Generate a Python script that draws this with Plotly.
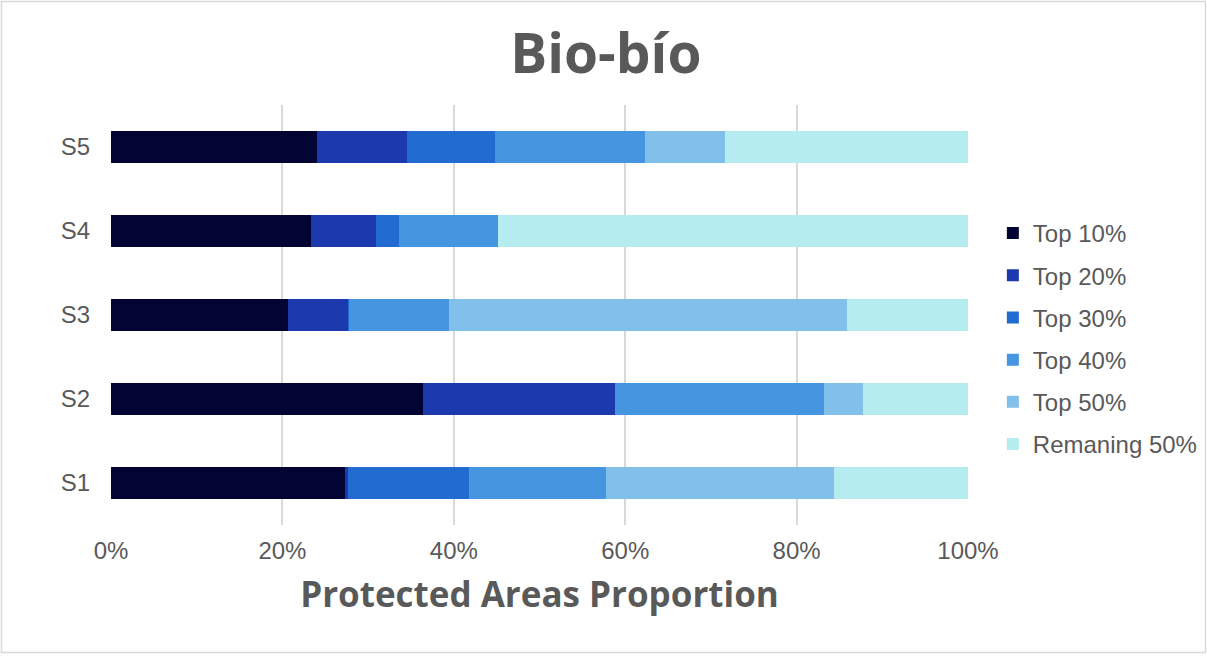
import plotly.graph_objects as go

# Scenario categories (bottom to top)
scenarios = ["S1", "S2", "S3", "S4", "S5"]

# Share of protected area (%) in each priority band, per scenario
top10 = [27.3, 36.4, 20.6, 23.3, 24.0]
top20 = [0.4, 22.4, 7.1, 7.6, 10.5]
top30 = [14.1, 0.0, 0.1, 2.7, 10.3]
top40 = [16.0, 24.4, 11.6, 11.6, 17.5]
top50 = [26.6, 4.5, 46.5, 0.0, 9.3]
remaining = [15.6, 12.3, 14.1, 54.8, 28.4]

series_names = ["Top 10%", "Top 20%", "Top 30%", "Top 40%", "Top 50%", "Remaning 50%"]
series_values = [top10, top20, top30, top40, top50, remaining]
colors = ["#020533", "#1c3aad", "#216bd1", "#4695e0", "#82bfea", "#b5ecf0"]

fig = go.Figure()
for i, (name, vals, col) in enumerate(zip(series_names, series_values, colors)):
    fig.add_trace(go.Bar(
        y=scenarios,
        x=[v / 100 for v in vals],
        name=name,
        orientation="h",
        legendgroup=f"g{i}",
        marker=dict(color=col, line=dict(width=0)),
    ))

font_family = "Liberation Sans, Arial, sans-serif"
grey = "#595959"

fig.update_layout(
    barmode="stack",
    bargap=0.61,
    width=1207,
    height=656,
    margin=dict(l=111, r=239, t=105, b=131, autoexpand=False),
    paper_bgcolor="white",
    plot_bgcolor="white",
    font=dict(family=font_family, color=grey, size=24),
    title=dict(
        text="<b>Bio-bío</b>",
        x=0.502, xref="container", xanchor="center",
        y=0.918, yref="container", yanchor="middle",
        font=dict(family="Open Sans, sans-serif", size=55, color=grey),
    ),
    xaxis=dict(
        range=[0, 1],
        tickformat=".0%",
        dtick=0.2,
        showgrid=True,
        gridcolor="#d9d9d9",
        gridwidth=1.5,
        zeroline=False,
        showline=False,
        ticks="",
        ticklabelstandoff=9,
        tickfont=dict(size=24, color=grey),
        title=dict(
            text="<b>Protected Areas Proportion</b>",
            font=dict(family="Open Sans, sans-serif", size=35, color=grey),
            standoff=19,
        ),
    ),
    yaxis=dict(
        showgrid=False,
        zeroline=False,
        showline=False,
        ticks="",
        ticklabelstandoff=20,
        tickfont=dict(size=24, color=grey),
    ),
    legend=dict(
        traceorder="grouped",
        x=1.029, xanchor="left",
        y=0.443, yanchor="middle",
        font=dict(size=24, color=grey),
        tracegroupgap=8,
        itemwidth=30,
        bgcolor="rgba(0,0,0,0)",
    ),
    shapes=[dict(
        type="rect", xref="paper", yref="paper",
        x0=(1.5 - 111) / 857, x1=(1205.5 - 111) / 857,
        y0=(525 - 652.5) / 420, y1=(525 - 1.5) / 420,
        line=dict(color="#d9d9d9", width=1.5),
        fillcolor="rgba(0,0,0,0)",
        layer="below",
    )],
)

fig.write_html("out.html")
